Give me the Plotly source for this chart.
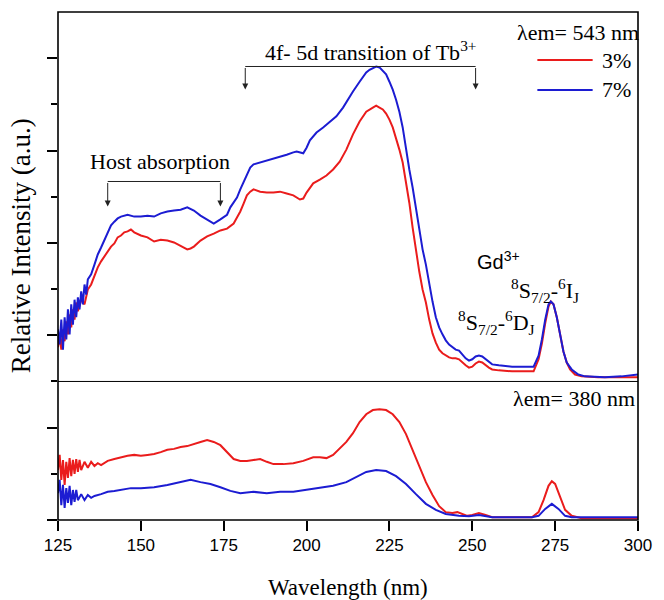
import plotly.graph_objects as go

# ---------------- data: excitation spectra (arbitrary units) ----------------
# upper panel, λem = 543 nm, 3% sample
wl_top_3 = [125, 125.5, 126, 126.5, 127, 127.5, 128, 128.5, 129, 129.5,
            130, 130.5, 131, 132, 133, 134, 135, 136, 137, 138,
            139, 140, 141, 142, 143, 144, 145, 146, 147, 148,
            150, 152, 154, 156, 158, 160, 162, 164, 165, 166,
            168, 170, 172, 174, 176, 178, 179, 180, 181, 182,
            183, 184, 186, 188, 190, 192, 194, 196, 198, 199,
            200, 202, 204, 206, 208, 210, 212, 214, 216, 218,
            220, 221, 222, 223, 224, 225, 226, 227, 228, 229,
            230, 231, 232, 233, 234, 235, 236, 237, 238, 239,
            240, 241, 242, 243, 244, 245, 246, 247, 248, 249,
            250, 251, 252, 253, 254, 255, 256, 258, 262, 266,
            268.5, 270, 271, 272, 273, 273.7, 274.5, 275.5, 276.5, 277.5,
            278.5, 279.5, 281, 283, 288, 294, 300]
int_top_3 = [0.74, 1.00, 0.69, 1.13, 0.87, 1.30, 1.02, 1.45, 1.17, 1.56,
             1.34, 1.71, 1.52, 1.77, 1.67, 1.99, 2.10, 2.29, 2.47, 2.60,
             2.71, 2.81, 2.92, 2.99, 3.12, 3.16, 3.23, 3.25, 3.29, 3.23,
             3.16, 3.12, 3.03, 3.07, 3.05, 3.01, 2.94, 2.86, 2.88, 2.92,
             3.05, 3.14, 3.20, 3.27, 3.31, 3.42, 3.55, 3.68, 3.85, 4.03,
             4.11, 4.16, 4.11, 4.09, 4.09, 4.11, 4.07, 4.03, 3.94, 3.96,
             4.09, 4.29, 4.37, 4.46, 4.59, 4.76, 5.02, 5.35, 5.63, 5.84,
             5.93, 5.97, 5.93, 5.89, 5.80, 5.67, 5.50, 5.28, 5.02, 4.74,
             4.33, 3.87, 3.33, 2.81, 2.38, 1.99, 1.71, 1.34, 1.04, 0.84,
             0.69, 0.61, 0.56, 0.52, 0.50, 0.50, 0.48, 0.41, 0.35, 0.30,
             0.32, 0.39, 0.43, 0.41, 0.35, 0.30, 0.26, 0.24, 0.22, 0.22,
             0.22, 0.48, 0.82, 1.26, 1.62, 1.73, 1.67, 1.39, 1.02, 0.65,
             0.41, 0.26, 0.15, 0.11, 0.09, 0.09, 0.09]

# upper panel, λem = 543 nm, 7% sample
wl_top_7 = [125, 125.5, 126, 126.5, 127, 127.5, 128, 128.5, 129, 129.5,
            130, 130.5, 131, 131.5, 132, 132.5, 133, 133.5, 134, 135,
            136, 137, 138, 139, 140, 141, 142, 143, 144, 146,
            148, 150, 152, 154, 156, 158, 160, 162, 164, 166,
            168, 170, 172, 174, 176, 177, 178, 179, 180, 181,
            182, 183, 184, 186, 188, 190, 192, 194, 196, 197,
            199, 200, 201, 203, 205, 207, 209, 211, 213, 214,
            216, 218, 219, 221, 222, 223, 224, 225, 226, 227,
            228, 229, 230, 231, 232, 233, 234, 235, 236, 237,
            238, 239, 240, 241, 242, 243, 244, 245, 246, 247,
            248, 249, 250, 251, 252, 253, 254, 255, 256, 258,
            262, 268.5, 270, 271, 272, 273, 273.7, 274.5, 275.5, 276.5,
            277.5, 278.5, 280, 282, 284, 290, 295, 300]
int_top_7 = [1.13, 0.80, 1.34, 0.69, 1.39, 0.91, 1.56, 1.02, 1.67, 1.23,
             1.77, 1.39, 1.82, 1.56, 1.95, 1.67, 2.10, 1.88, 2.21, 2.32,
             2.53, 2.75, 2.90, 3.07, 3.23, 3.38, 3.46, 3.53, 3.57, 3.61,
             3.57, 3.57, 3.59, 3.57, 3.64, 3.68, 3.70, 3.72, 3.77, 3.70,
             3.59, 3.51, 3.42, 3.51, 3.61, 3.77, 3.87, 3.98, 4.16, 4.33,
             4.50, 4.63, 4.70, 4.74, 4.78, 4.83, 4.87, 4.91, 4.96, 4.98,
             4.94, 5.06, 5.22, 5.39, 5.50, 5.61, 5.74, 5.93, 6.17, 6.28,
             6.49, 6.69, 6.75, 6.82, 6.80, 6.73, 6.65, 6.49, 6.32, 6.10,
             5.84, 5.50, 5.02, 4.59, 4.20, 3.72, 3.29, 2.86, 2.53, 2.10,
             1.73, 1.39, 1.17, 1.02, 0.89, 0.80, 0.74, 0.69, 0.67, 0.58,
             0.50, 0.45, 0.48, 0.54, 0.56, 0.54, 0.48, 0.41, 0.37, 0.35,
             0.32, 0.32, 0.56, 0.91, 1.34, 1.67, 1.73, 1.67, 1.39, 1.02,
             0.65, 0.41, 0.26, 0.15, 0.11, 0.09, 0.11, 0.15]

# lower panel, λem = 380 nm, 3% sample
wl_bot_3 = [125, 125.5, 126, 126.5, 127, 127.5, 128, 128.5, 129, 129.5,
            130, 130.5, 131, 131.5, 132, 133, 134, 135, 136, 137,
            138, 139, 140, 142, 144, 146, 148, 150, 152, 154,
            156, 158, 160, 162, 164, 166, 168, 170, 172, 174,
            176, 178, 180, 182, 184, 186, 188, 190, 193, 196,
            199, 202, 204, 206, 208, 210, 212, 214, 216, 218,
            220, 222, 224, 226, 228, 230, 232, 234, 236, 238,
            240, 242, 244, 245.5, 247, 248.5, 250, 252, 254, 256,
            260, 268, 270, 271.5, 273, 274, 275, 276.5, 278, 280,
            283, 300]
int_bot_3 = [1.08, 1.41, 0.87, 1.30, 0.76, 1.26, 0.91, 1.34, 0.95, 1.30,
             1.00, 1.32, 1.04, 1.30, 1.08, 1.26, 1.13, 1.26, 1.17, 1.23,
             1.19, 1.23, 1.28, 1.32, 1.36, 1.39, 1.41, 1.39, 1.41, 1.43,
             1.47, 1.52, 1.54, 1.58, 1.60, 1.65, 1.69, 1.73, 1.69, 1.62,
             1.47, 1.32, 1.28, 1.28, 1.30, 1.32, 1.26, 1.21, 1.21, 1.23,
             1.28, 1.36, 1.36, 1.34, 1.41, 1.54, 1.69, 1.88, 2.12, 2.29,
             2.38, 2.40, 2.38, 2.29, 2.12, 1.86, 1.52, 1.17, 0.82, 0.54,
             0.30, 0.17, 0.15, 0.17, 0.13, 0.09, 0.11, 0.15, 0.11, 0.06,
             0.06, 0.06, 0.17, 0.43, 0.74, 0.84, 0.78, 0.50, 0.22, 0.09,
             0.04, 0.04]

# lower panel, λem = 380 nm, 7% sample
wl_bot_7 = [125, 125.5, 126, 126.5, 127, 127.5, 128, 128.5, 129, 129.5,
            130, 130.5, 131, 132, 133, 134, 135, 136, 138, 140,
            142, 144, 147, 150, 154, 158, 162, 165, 168, 171,
            174, 177, 180, 184, 188, 192, 196, 200, 204, 208,
            212, 215, 218, 221, 224, 227, 230, 233, 236, 239,
            242, 246, 249, 252, 256, 268, 270, 272, 274, 276,
            278, 280, 300]
int_bot_7 = [0.58, 0.87, 0.32, 0.76, 0.26, 0.69, 0.37, 0.74, 0.32, 0.65,
             0.39, 0.65, 0.43, 0.56, 0.43, 0.54, 0.48, 0.52, 0.56, 0.61,
             0.63, 0.65, 0.69, 0.69, 0.71, 0.76, 0.82, 0.87, 0.82, 0.78,
             0.71, 0.63, 0.58, 0.61, 0.58, 0.61, 0.61, 0.65, 0.69, 0.74,
             0.82, 0.93, 1.04, 1.08, 1.06, 0.95, 0.78, 0.56, 0.35, 0.22,
             0.13, 0.09, 0.08, 0.11, 0.06, 0.06, 0.09, 0.24, 0.35, 0.24,
             0.09, 0.06, 0.06]

x_ticks = [125, 150, 175, 200, 225, 250, 275, 300]

RED = "#ea1c1c"
BLUE = "#1c1cd2"
SERIF = "Liberation Serif, Times New Roman, serif"
SANS = "Liberation Sans, Arial, sans-serif"
LW = 2

fig = go.Figure()

# upper panel
fig.add_trace(go.Scatter(x=wl_top_3, y=int_top_3, mode="lines", name="3%",
                         line=dict(color=RED, width=LW), xaxis="x2", yaxis="y2"))
fig.add_trace(go.Scatter(x=wl_top_7, y=int_top_7, mode="lines", name="7%",
                         line=dict(color=BLUE, width=LW), xaxis="x2", yaxis="y2"))
# lower panel
fig.add_trace(go.Scatter(x=wl_bot_3, y=int_bot_3, mode="lines", name="3%",
                         line=dict(color=RED, width=LW), xaxis="x", yaxis="y"))
fig.add_trace(go.Scatter(x=wl_bot_7, y=int_bot_7, mode="lines", name="7%",
                         line=dict(color=BLUE, width=LW), xaxis="x", yaxis="y"))

split = 3 / 11  # lower panel spans 3 units, upper panel 8 units

fig.update_layout(
    width=664, height=600,
    margin=dict(l=58, r=18, t=12, b=80),
    paper_bgcolor="white", plot_bgcolor="white",
    showlegend=False,
    xaxis=dict(domain=[0, 1], anchor="y", range=[125, 300], tickvals=x_ticks,
               ticks="outside", ticklen=10, tickwidth=1.5, tickcolor="black",
               showgrid=False, zeroline=False, showline=False,
               tickfont=dict(family=SANS, size=17, color="black")),
    xaxis2=dict(domain=[0, 1], anchor="y2", matches="x", showticklabels=False,
                ticks="", showgrid=False, zeroline=False, showline=False),
    yaxis=dict(domain=[0, split], anchor="x", range=[0, 3], tickvals=[0, 2],
               ticks="outside", ticklen=10, tickwidth=1.5, tickcolor="black",
               minor=dict(tickvals=[1, 3], ticks="outside", ticklen=6, tickwidth=1.5,
                          tickcolor="black", showgrid=False),
               showticklabels=False, showgrid=False, zeroline=False, showline=False),
    yaxis2=dict(domain=[split, 1], anchor="x2", range=[0, 8], tickvals=[1, 3, 5, 7],
                ticks="outside", ticklen=10, tickwidth=1.5, tickcolor="black",
                minor=dict(tickvals=[2, 4, 6], ticks="outside", ticklen=6, tickwidth=1.5,
                           tickcolor="black", showgrid=False),
                showticklabels=False, showgrid=False, zeroline=False, showline=False),
)

# frame and panel divider
fig.add_shape(type="rect", xref="paper", yref="paper", x0=0, x1=1, y0=0, y1=1,
              line=dict(color="black", width=1.6))
fig.add_shape(type="line", xref="paper", yref="paper", x0=0, x1=1, y0=split, y1=split,
              line=dict(color="black", width=1))

# brackets marking the absorption bands (upper panel data coordinates)
bracket_col = "#222222"
host_band = [140, 174]
tb_band = [181.5, 251]
fig.add_shape(type="line", xref="x2", yref="y2", x0=host_band[0], x1=host_band[1], y0=4.33, y1=4.33,
              line=dict(color=bracket_col, width=1))
fig.add_shape(type="line", xref="x2", yref="y2", x0=tb_band[0], x1=tb_band[1], y0=6.82, y1=6.82,
              line=dict(color=bracket_col, width=1))
for xb in host_band:
    fig.add_annotation(xref="x2", yref="y2", x=xb, y=3.79, axref="x2", ayref="y2", ax=xb, ay=4.33,
                       text="", showarrow=True, arrowhead=2, arrowsize=1.2, arrowwidth=1,
                       arrowcolor=bracket_col)
for xb in tb_band:
    fig.add_annotation(xref="x2", yref="y2", x=xb, y=6.32, axref="x2", ayref="y2", ax=xb, ay=6.82,
                       text="", showarrow=True, arrowhead=2, arrowsize=1.2, arrowwidth=1,
                       arrowcolor=bracket_col)


def note(text, x, y, xref="x2", yref="y2", size=22, family=SERIF, xanchor="center"):
    fig.add_annotation(xref=xref, yref=yref, x=x, y=y, text=text, showarrow=False,
                       xanchor=xanchor, yanchor="middle",
                       font=dict(family=family, size=size, color="black"))


note("Host absorption", 155.7, 4.76)
note("4f- 5d transition of Tb<sup>3+</sup>", 219.3, 7.15)
note("Gd<sup>3+</sup>", 258.0, 2.62, family=SANS, size=20)
note("<sup>8</sup>S<sub>7/2</sub>-<sup>6</sup>I<sub>J</sub>", 272.0, 1.98)
note("<sup>8</sup>S<sub>7/2</sub>-<sup>6</sup>D<sub>J</sub>", 257.2, 1.27)
note("λem= 380 nm", 0.998, 0.240, xref="paper", yref="paper", xanchor="right")

# key for the two doping levels, upper-right corner
note("λem= 543 nm", 1.006, 0.9587, xref="paper", yref="paper", xanchor="right")
for name, col, yk in [("3%", RED, 0.9055), ("7%", BLUE, 0.8465)]:
    fig.add_shape(type="line", xref="paper", yref="paper", x0=0.8265, x1=0.9218, y0=yk, y1=yk,
                  line=dict(color=col, width=LW))
    note(name, 0.9345, yk, xref="paper", yref="paper", xanchor="left")

# axis titles
note("Wavelength (nm)", 0.5, -0.132, xref="paper", yref="paper", size=23)
fig.add_annotation(xref="paper", yref="paper", x=-0.0646, y=0.54, text="Relative Intensity (a.u.)",
                   showarrow=False, textangle=-90, xanchor="center", yanchor="middle",
                   font=dict(family=SERIF, size=27, color="black"))

fig.write_html("out.html")
